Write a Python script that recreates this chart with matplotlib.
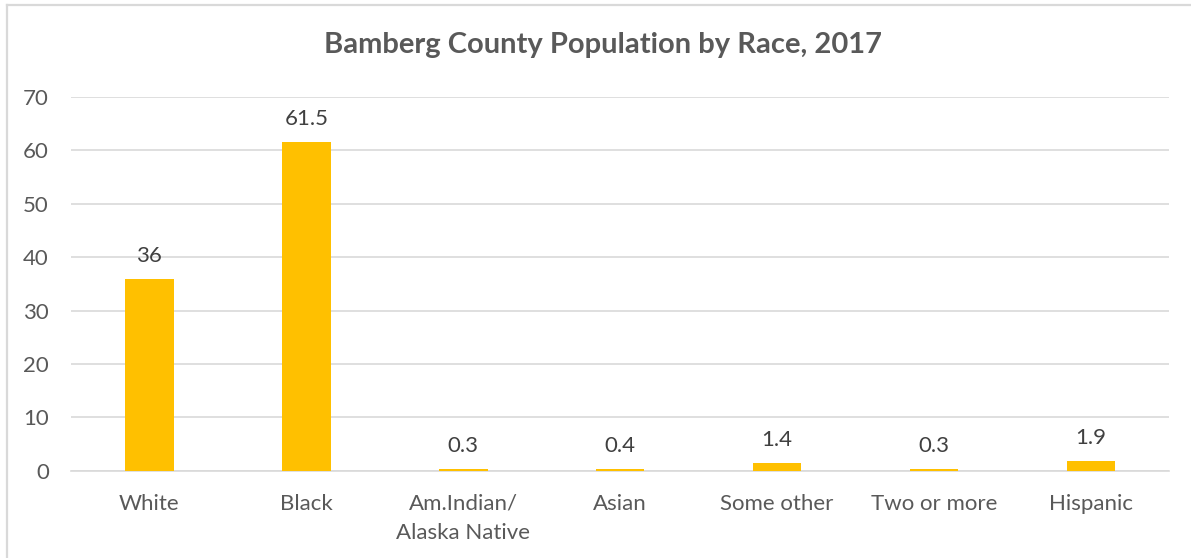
import matplotlib
matplotlib.use('Agg')
import matplotlib.pyplot as plt
from matplotlib.lines import Line2D

# Bamberg County population shares by race (percent), 2017
categories = ['White', 'Black', 'Am.Indian/\nAlaska Native', 'Asian',
              'Some other', 'Two or more', 'Hispanic']
percent = [36, 61.5, 0.3, 0.4, 1.4, 0.3, 1.9]
y_ticks = [0, 10, 20, 30, 40, 50, 60, 70]

BAR_COLOR = '#FFC000'
TEXT_COLOR = '#595959'
GRID_COLOR = '#D9D9D9'

plt.rcParams['font.family'] = ['Lato', 'DejaVu Sans']

fig = plt.figure(figsize=(11.91, 5.58), dpi=100)
ax = fig.add_axes([0.0596, 0.1563, 0.9222, 0.6699])

x = range(len(categories))
bars = ax.bar(x, percent, width=0.31, color=BAR_COLOR, zorder=3)

for rect, val in zip(bars, percent):
    ax.annotate(f'{val:g}', (rect.get_x() + rect.get_width() / 2, val),
                xytext=(0, 16.5), textcoords='offset points',
                ha='center', va='center', fontsize=16, color='#404040')

ax.set_xlim(-0.5, len(categories) - 0.5)
ax.set_ylim(0, 70)
ax.set_yticks(y_ticks)
ax.set_xticks(list(x))
ax.set_xticklabels(categories, linespacing=1.6)
ax.tick_params(axis='both', length=0, labelsize=16, labelcolor=TEXT_COLOR)
ax.tick_params(axis='x', pad=16.5)
ax.tick_params(axis='y', pad=16)

ax.yaxis.grid(True, color=GRID_COLOR, linewidth=1.2, zorder=0)
for side in ['top', 'right', 'left']:
    ax.spines[side].set_visible(False)
ax.spines['bottom'].set_color(GRID_COLOR)
ax.spines['bottom'].set_linewidth(1.2)

fig.text(0.506, 0.919, 'Bamberg County Population by Race, 2017',
         ha='center', va='center', fontsize=21, fontweight='bold',
         color=TEXT_COLOR)

# chart frame (left and top edges)
fig.add_artist(Line2D([0.0055, 0.0055], [0, 0.9919], color=GRID_COLOR,
                      linewidth=1.6, transform=fig.transFigure))
fig.add_artist(Line2D([0.0055, 1.0], [0.9919, 0.9919], color=GRID_COLOR,
                      linewidth=1.6, transform=fig.transFigure))

fig.savefig('out.png', dpi=100, facecolor='white')
